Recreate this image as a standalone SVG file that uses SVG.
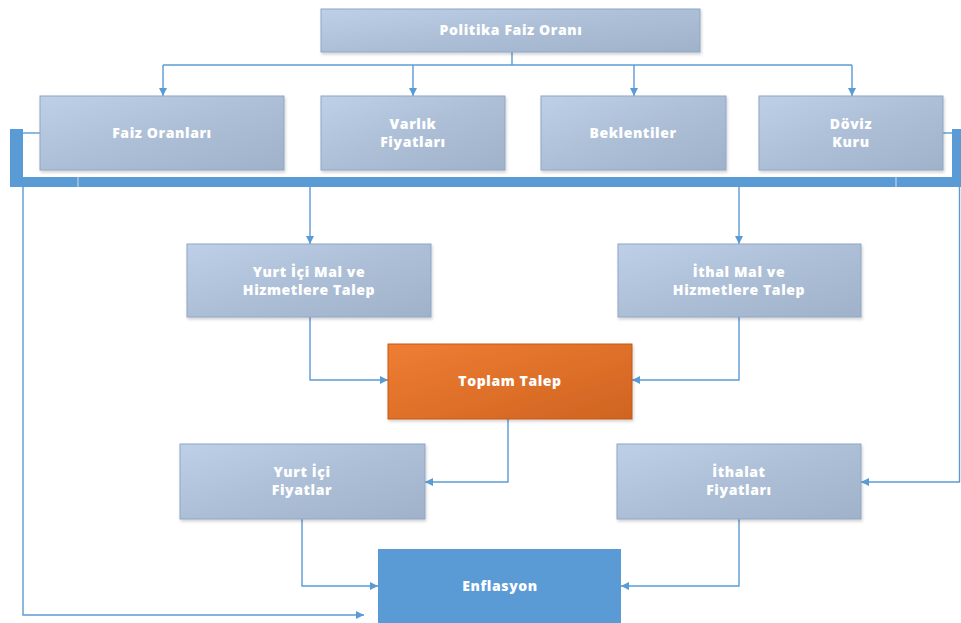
<svg xmlns="http://www.w3.org/2000/svg" width="961" height="623" viewBox="0 0 961 623">
<style>
.box{fill:url(#gb);stroke:#8fa6c4;stroke-width:1;filter:url(#sh)}
.lbl{font-family:"Open Sans","Noto Sans","Liberation Sans",sans-serif;font-weight:800;font-size:14px;letter-spacing:0.6px;fill:#ffffff;text-anchor:middle}
.con{fill:none;stroke:#5b9bd5;stroke-width:1.4}
.bar{fill:#5b9bd5}
</style>
<defs>
<linearGradient id="gb" x1="0" y1="0" x2="1" y2="1">
<stop offset="0" stop-color="#bdd0e8"/>
<stop offset="0.5" stop-color="#adbfd6"/>
<stop offset="1" stop-color="#a0b2ca"/>
</linearGradient>
<linearGradient id="go" x1="0" y1="0" x2="1" y2="1">
<stop offset="0" stop-color="#ef7d33"/>
<stop offset="1" stop-color="#cf6421"/>
</linearGradient>
<filter id="sh" x="-5%" y="-5%" width="115%" height="125%">
<feDropShadow dx="1" dy="2" stdDeviation="1.5" flood-color="#000" flood-opacity="0.18"/>
</filter>
<marker id="ah" viewBox="0 0 10 10" refX="10" refY="5" markerWidth="9" markerHeight="8" markerUnits="userSpaceOnUse" orient="auto">
<path d="M0,0 L10,5 L0,10 z" fill="#5b9bd5"/>
</marker>
</defs>
<rect width="961" height="623" fill="#ffffff"/>

<g id="connectors">
<rect class="bar" x="10" y="129" width="13" height="58"/>
<rect class="bar" x="10" y="177" width="951" height="10"/>
<rect class="bar" x="952" y="129" width="9" height="58"/>
<line x1="78" y1="177" x2="78" y2="187" stroke="#c9dcf0" stroke-width="1"/>
<line x1="896" y1="177" x2="896" y2="187" stroke="#c9dcf0" stroke-width="1"/>
<path class="con" d="M23,133 H40"/>
<path class="con" d="M943,133 H952"/>
<path class="con" d="M512,52 V65"/>
<path class="con" d="M163,65 H852"/>
<path class="con" d="M163,65 V96" marker-end="url(#ah)"/>
<path class="con" d="M413,65 V96" marker-end="url(#ah)"/>
<path class="con" d="M634,65 V96" marker-end="url(#ah)"/>
<path class="con" d="M852,65 V96" marker-end="url(#ah)"/>
<path class="con" d="M310,187 V244" marker-end="url(#ah)"/>
<path class="con" d="M739,187 V244" marker-end="url(#ah)"/>
<path class="con" d="M310,317 V380 H388" marker-end="url(#ah)"/>
<path class="con" d="M739,317 V380 H632" marker-end="url(#ah)"/>
<path class="con" d="M508,419 V482 H425" marker-end="url(#ah)"/>
<path class="con" d="M959.5,187 V482 H861" marker-end="url(#ah)"/>
<path class="con" d="M302,519 V586 H378" marker-end="url(#ah)"/>
<path class="con" d="M739,519 V586 H621" marker-end="url(#ah)"/>
<path class="con" d="M23,187 V615 H364" marker-end="url(#ah)"/>
</g>

<g id="politika">
<rect class="box" x="321" y="9" width="379" height="43"/>
<text class="lbl" x="511" y="35">Politika Faiz Oranı</text>
</g>
<g id="faiz">
<rect class="box" x="40" y="96" width="244" height="74"/>
<text class="lbl" x="162" y="138">Faiz Oranları</text>
</g>
<g id="varlik">
<rect class="box" x="321" y="96" width="184" height="74"/>
<text class="lbl" x="413" y="129">Varlık</text>
<text class="lbl" x="413" y="147">Fiyatları</text>
</g>
<g id="beklentiler">
<rect class="box" x="541" y="96" width="185" height="74"/>
<text class="lbl" x="633" y="138">Beklentiler</text>
</g>
<g id="doviz">
<rect class="box" x="759" y="96" width="184" height="74"/>
<text class="lbl" x="851" y="129">Döviz</text>
<text class="lbl" x="851" y="147">Kuru</text>
</g>
<g id="yurtici-talep">
<rect class="box" x="187" y="244" width="244" height="73"/>
<text class="lbl" x="309" y="277">Yurt İçi Mal ve</text>
<text class="lbl" x="309" y="295">Hizmetlere Talep</text>
</g>
<g id="ithal-talep">
<rect class="box" x="618" y="244" width="243" height="73"/>
<text class="lbl" x="739" y="277">İthal Mal ve</text>
<text class="lbl" x="739" y="295">Hizmetlere Talep</text>
</g>
<g id="toplam">
<rect x="388" y="344" width="244" height="75" fill="url(#go)" stroke="#c55a11" stroke-width="1" filter="url(#sh)"/>
<text class="lbl" x="510" y="386">Toplam Talep</text>
</g>
<g id="yurtici-fiyat">
<rect class="box" x="180" y="444" width="245" height="75"/>
<text class="lbl" x="302" y="477">Yurt İçi</text>
<text class="lbl" x="302" y="495">Fiyatlar</text>
</g>
<g id="ithalat-fiyat">
<rect class="box" x="617" y="444" width="244" height="75"/>
<text class="lbl" x="739" y="477">İthalat</text>
<text class="lbl" x="739" y="495">Fiyatları</text>
</g>
<g id="enflasyon">
<rect x="378" y="549" width="243" height="76" fill="#5b9bd5"/>
<text class="lbl" x="500" y="591">Enflasyon</text>
</g>
</svg>
